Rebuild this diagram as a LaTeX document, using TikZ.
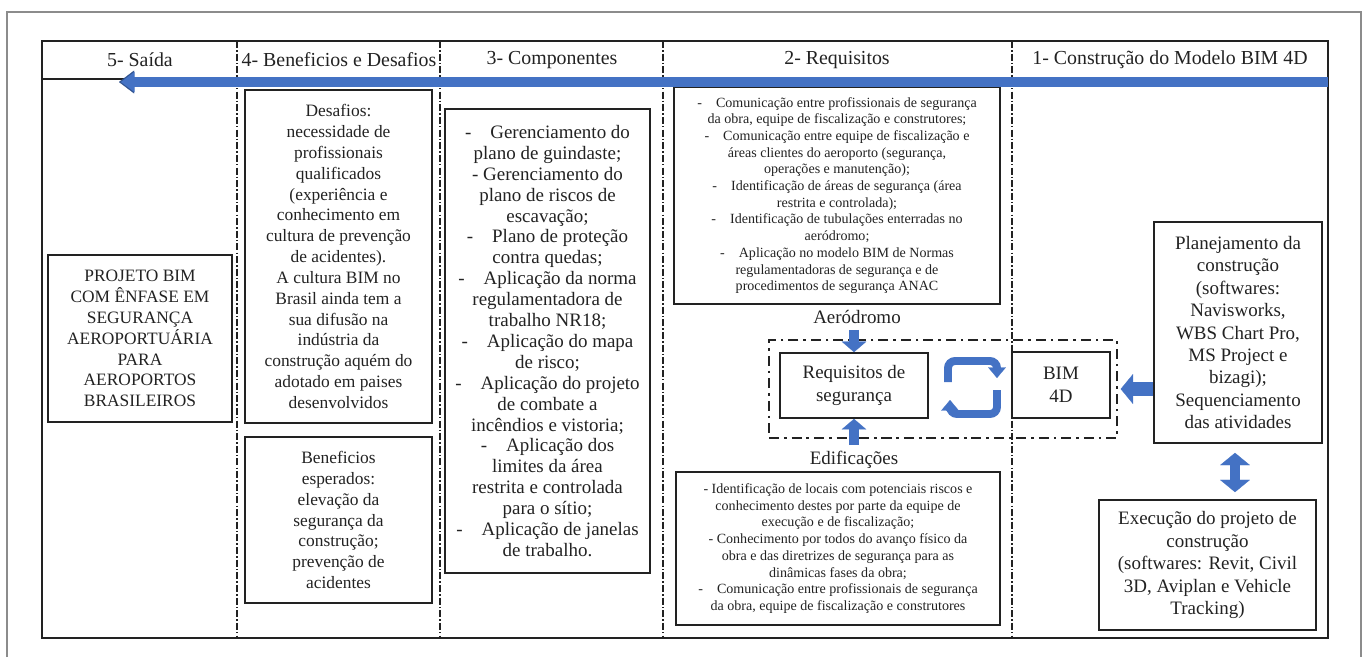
\documentclass[tikz,border=0pt]{standalone}
\usepackage{fontspec}
\setmainfont{Liberation Serif}
\usepackage{tikz}
\usetikzlibrary{arrows.meta, calc}
\definecolor{flowblue}{HTML}{4472C4}
\definecolor{flowedge}{HTML}{2F528F}
\definecolor{edgegray}{HTML}{8C8C8C}
\definecolor{inkblack}{HTML}{222222}
\newcommand{\txtbody}{\fontsize{9.9}{11.85}\selectfont}
\newcommand{\txtcomp}{\fontsize{10.8}{11.9}\selectfont}
\newcommand{\txtnote}{\fontsize{8}{9.5}\selectfont}
\newcommand{\txtkey}{\fontsize{10.8}{12.8}\selectfont}
\tikzstyle{panel} = [rectangle, draw=inkblack, line width=1pt, align=center, text=inkblack, inner sep=2pt]
\tikzstyle{colhead} = [font=\fontsize{11.3}{13}\selectfont, text=inkblack]
\tikzstyle{lane} = [draw=inkblack, line width=0.6pt, dash pattern=on 4pt off 1.2pt on 0.8pt off 1.2pt]
\tikzstyle{zone} = [rectangle, draw=inkblack, line width=1.25pt, dash pattern=on 5.7pt off 2.8pt on 1.5pt off 2.8pt]
\tikzstyle{flowedgearr} = [draw=flowedge, line width=6.2pt, -{Triangle[length=8.6pt, width=13pt, line width=0.1pt]}]
\tikzstyle{flowarr} = [draw=flowblue, line width=5.2pt, -{Triangle[length=7.6pt, width=11.4pt, line width=0.1pt]}]
\tikzstyle{blockarr} = [draw=flowblue, line width=5.5pt, -{Triangle[length=6pt, width=14pt, line width=0.1pt]}]
\tikzstyle{widearr} = [draw=flowblue, line width=8pt, -{Triangle[length=7pt, width=17pt, line width=0.1pt]}]
\tikzstyle{swaparr} = [draw=flowblue, line width=6pt, {Triangle[length=7pt, width=17pt, line width=0.1pt]}-{Triangle[length=7pt, width=17pt, line width=0.1pt]}]
\tikzstyle{looparr} = [draw=flowblue, line width=4.5pt, rounded corners=4pt, -{Triangle[length=6pt, width=10pt, line width=0.1pt]}]

\begin{document}
\begin{tikzpicture}[x=0.02cm, y=-0.02cm]
    \useasboundingbox (0,0) rectangle (1366,657);
    % frame and table
    \draw[edgegray, line width=0.6pt] (7,657) -- (7,12) -- (1361,12) -- (1361,657);
    \draw[inkblack, line width=1.2pt] (42,41) rectangle (1328,638);
    \draw[inkblack, line width=0.8pt] (42,79) -- (1328,79);
    \foreach \x in {237,440,663,1012} \draw[lane] (\x,41) -- (\x,638);

    % column titles
    \node[colhead] (h5) at (140,60) {5- Saída};
    \node[colhead] (h4) at (339,60) {4- Beneficios e Desafios};
    \node[colhead] (h3) at (552,60) {3- Componentes};
    \node[colhead] (h2) at (837,60) {2- Requisitos};
    \node[colhead] (h1) at (1170,60) {1- Construção do Modelo BIM 4D};

    % 5 and 4
    \node[panel, font=\txtbody, minimum width=3.68cm, minimum height=3.34cm] (output) at (140,338.5) {PROJETO BIM\\COM ÊNFASE EM\\SEGURANÇA\\AEROPORTUÁRIA\\PARA\\AEROPORTOS\\BRASILEIROS};
    \node[panel, font=\txtbody, minimum width=3.74cm, minimum height=6.66cm] (challenges) at (338.5,256.5) {Desafios:\\necessidade de\\profissionais\\qualificados\\(experiência e\\conhecimento em\\cultura de prevenção\\de acidentes).\\A cultura BIM no\\Brasil ainda tem a\\sua difusão na\\indústria da\\construção aquém do\\adotado em paises\\desenvolvidos};
    \node[panel, font=\txtbody, minimum width=3.74cm, minimum height=3.32cm] (benefits) at (338.5,520) {Beneficios\\esperados:\\elevação da\\segurança da\\construção;\\prevenção de\\acidentes};

    % 3
    \node[panel, font=\txtcomp, minimum width=4.1cm, minimum height=9.28cm] (components) at (547.5,341) {-\quad Gerenciamento do\\plano de guindaste;\\- Gerenciamento do\\plano de riscos de\\escavação;\\-\quad Plano de proteção\\contra quedas;\\-\quad Aplicação da norma\\regulamentadora de\\trabalho NR18;\\-\quad Aplicação do mapa\\de risco;\\-\quad Aplicação do projeto\\de combate a\\incêndios e vistoria;\\-\quad Aplicação dos\\limites da área\\restrita e controlada\\para o sítio;\\-\quad Aplicação de janelas\\de trabalho.};

    % 2
    \node[panel, font=\txtnote, minimum width=6.52cm, minimum height=4.34cm] (airside) at (837,195.5) {-\quad Comunicação entre profissionais de segurança\\da obra, equipe de fiscalização e construtores;\\-\quad Comunicação entre equipe de fiscalização e\\áreas clientes do aeroporto (segurança,\\operações e manutenção);\\-\quad Identificação de áreas de segurança (área\\restrita e controlada);\\-\quad Identificação de tubulações enterradas no\\aeródromo;\\-\quad Aplicação no modelo BIM de Normas\\regulamentadoras de segurança e de\\procedimentos de segurança ANAC};
    \node[zone, minimum width=6.96cm, minimum height=1.96cm] (region) at (943,389) {};
    \node[panel, font=\txtkey, minimum width=2.96cm, minimum height=1.3cm] (reqs) at (854,385.5) {Requisitos de\\segurança};
    \node[panel, font=\txtkey, minimum width=1.96cm, minimum height=1.32cm] (bim) at (1061,385) {BIM\\4D};
    \node[font=\txtkey, text=inkblack] (aero) at (857,317) {Aeródromo};
    \node[font=\txtkey, text=inkblack] (edif) at (854,460) {Edificações};
    \node[panel, font=\txtnote, minimum width=6.48cm, minimum height=3.06cm] (buildings) at (838,548.5) {- Identificação de locais com potenciais riscos e\\conhecimento destes por parte da equipe de\\execução e de fiscalização;\\- Conhecimento por todos do avanço físico da\\obra e das diretrizes de segurança para as\\dinâmicas fases da obra;\\-\quad Comunicação entre profissionais de segurança\\da obra, equipe de fiscalização e construtores};

    % 1
    \node[panel, font=\txtkey, minimum width=3.36cm, minimum height=4.42cm] (plan) at (1238,332.5) {Planejamento da\\construção\\(softwares:\\Navisworks,\\WBS Chart Pro,\\MS Project e\\bizagi);\\Sequenciamento\\das atividades};
    \node[panel, font=\txtkey, minimum width=4.34cm, minimum height=2.6cm] (exec) at (1207.5,565) {Execução do projeto de\\construção\\(softwares: Revit, Civil\\3D, Aviplan e Vehicle\\Tracking)};

    % arrows
    \coordinate (flowin) at (1328,82);
    \coordinate (flowout) at (119,82);
    \coordinate (flowtip) at (121,82);
    \draw[flowedgearr] (flowin) -- (flowout);
    \draw[flowarr] (flowin) -- (flowtip);
    \draw[blockarr] (reqs.north |- aero.south) -- (reqs.north);
    \draw[blockarr] (reqs.south |- edif.north) -- (reqs.south);
    \draw[widearr, shorten >=1.5pt] (plan.west |- region.east) -- (region.east);
    \draw[swaparr] ($(plan.south)+(-3,9)$) -- ($(plan.south |- exec.north)+(-3,-7)$);
    \coordinate (cycA0) at (948,382);
    \coordinate (cycTL) at (948,361);
    \coordinate (cycA1) at (997,378);
    \coordinate (cycB0) at (997,390);
    \coordinate (cycBR) at (997,414);
    \coordinate (cycB1) at (950,400);
    \draw[looparr] (cycA0) -- (cycTL) -| (cycA1);
    \draw[looparr] (cycB0) -- (cycBR) -| (cycB1);
\end{tikzpicture}
\end{document}
